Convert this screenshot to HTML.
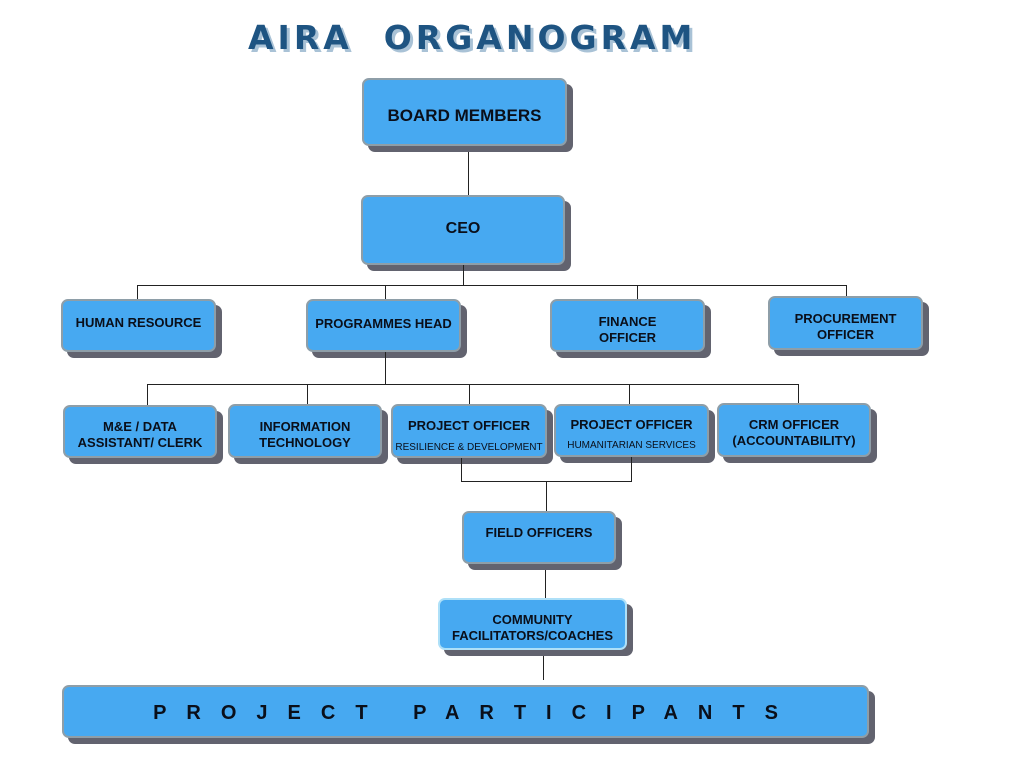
<!DOCTYPE html>
<html><head><style>
body{margin:0;width:1024px;height:768px;background:#fff;position:relative;overflow:hidden;font-family:"Liberation Sans",sans-serif}
.b{position:absolute;box-sizing:border-box;background:#47a9f1;border:2px solid #8e9ea8;border-radius:7px;box-shadow:6px 6px 0 #62636f;color:#0a0f1a;font-weight:bold;text-align:center;font-size:13px;line-height:16px}
.t{position:absolute;left:0;right:0}
.l{position:absolute;background:#222}
.h{height:1px}.v{width:1px}
</style></head><body>
<div style="position:absolute;left:248px;top:18px;font-family:'DejaVu Sans','Liberation Sans',sans-serif;font-weight:900;font-size:33px;letter-spacing:4px;color:#1e5482;text-shadow:3px 3px 0 #a9c2d6;white-space:nowrap">AIRA&nbsp;&nbsp;ORGANOGRAM</div>

<div class="b" style="left:362px;top:78px;width:205px;height:68px;font-size:17px"><div class="t" style="top:28px">BOARD MEMBERS</div></div>
<div class="b" style="left:361px;top:195px;width:204px;height:70px;font-size:16px"><div class="t" style="top:24px">CEO</div></div>

<div class="b" style="left:61px;top:299px;width:155px;height:53px"><div class="t" style="top:14px">HUMAN RESOURCE</div></div>
<div class="b" style="left:306px;top:299px;width:155px;height:53px"><div class="t" style="top:15px">PROGRAMMES HEAD</div></div>
<div class="b" style="left:550px;top:299px;width:155px;height:53px"><div class="t" style="top:13px">FINANCE<br>OFFICER</div></div>
<div class="b" style="left:768px;top:296px;width:155px;height:54px"><div class="t" style="top:13px">PROCUREMENT<br>OFFICER</div></div>

<div class="b" style="left:63px;top:405px;width:154px;height:53px"><div class="t" style="top:12px">M&amp;E / DATA<br>ASSISTANT/ CLERK</div></div>
<div class="b" style="left:228px;top:404px;width:154px;height:54px"><div class="t" style="top:13px">INFORMATION<br>TECHNOLOGY</div></div>
<div class="b" style="left:391px;top:404px;width:156px;height:54px"><div class="t" style="top:12px">PROJECT OFFICER</div><div class="t" style="top:34px;font-weight:normal;font-size:10px;white-space:nowrap">RESILIENCE &amp; DEVELOPMENT</div></div>
<div class="b" style="left:554px;top:404px;width:155px;height:53px"><div class="t" style="top:11px">PROJECT OFFICER</div><div class="t" style="top:32px;font-weight:normal;font-size:10px">HUMANITARIAN SERVICES</div></div>
<div class="b" style="left:717px;top:403px;width:154px;height:54px"><div class="t" style="top:12px">CRM OFFICER<br>(ACCOUNTABILITY)</div></div>

<div class="b" style="left:462px;top:511px;width:154px;height:53px"><div class="t" style="top:12px">FIELD OFFICERS</div></div>
<div class="b" style="left:438px;top:598px;width:189px;height:52px;border-color:#aee0f8"><div class="t" style="top:12px">COMMUNITY<br>FACILITATORS/COACHES</div></div>
<div class="b" style="left:62px;top:685px;width:807px;height:53px;font-size:20px;letter-spacing:20px"><div class="t" style="top:18px;padding-left:20px">PROJECT&nbsp;PARTICIPANTS</div></div>

<div class="l v" style="left:468px;top:152px;height:43px"></div>
<div class="l v" style="left:463px;top:265px;height:20px"></div>
<div class="l h" style="left:137px;top:285px;width:710px"></div>
<div class="l v" style="left:137px;top:285px;height:14px"></div>
<div class="l v" style="left:385px;top:285px;height:14px"></div>
<div class="l v" style="left:637px;top:285px;height:14px"></div>
<div class="l v" style="left:846px;top:285px;height:11px"></div>
<div class="l v" style="left:385px;top:352px;height:32px"></div>
<div class="l h" style="left:147px;top:384px;width:652px"></div>
<div class="l v" style="left:147px;top:384px;height:21px"></div>
<div class="l v" style="left:307px;top:384px;height:20px"></div>
<div class="l v" style="left:469px;top:384px;height:20px"></div>
<div class="l v" style="left:629px;top:384px;height:20px"></div>
<div class="l v" style="left:798px;top:384px;height:19px"></div>
<div class="l v" style="left:461px;top:458px;height:23px"></div>
<div class="l v" style="left:631px;top:457px;height:24px"></div>
<div class="l h" style="left:461px;top:481px;width:171px"></div>
<div class="l v" style="left:546px;top:481px;height:30px"></div>
<div class="l v" style="left:545px;top:570px;height:28px"></div>
<div class="l v" style="left:543px;top:656px;height:24px"></div>
</body></html>
